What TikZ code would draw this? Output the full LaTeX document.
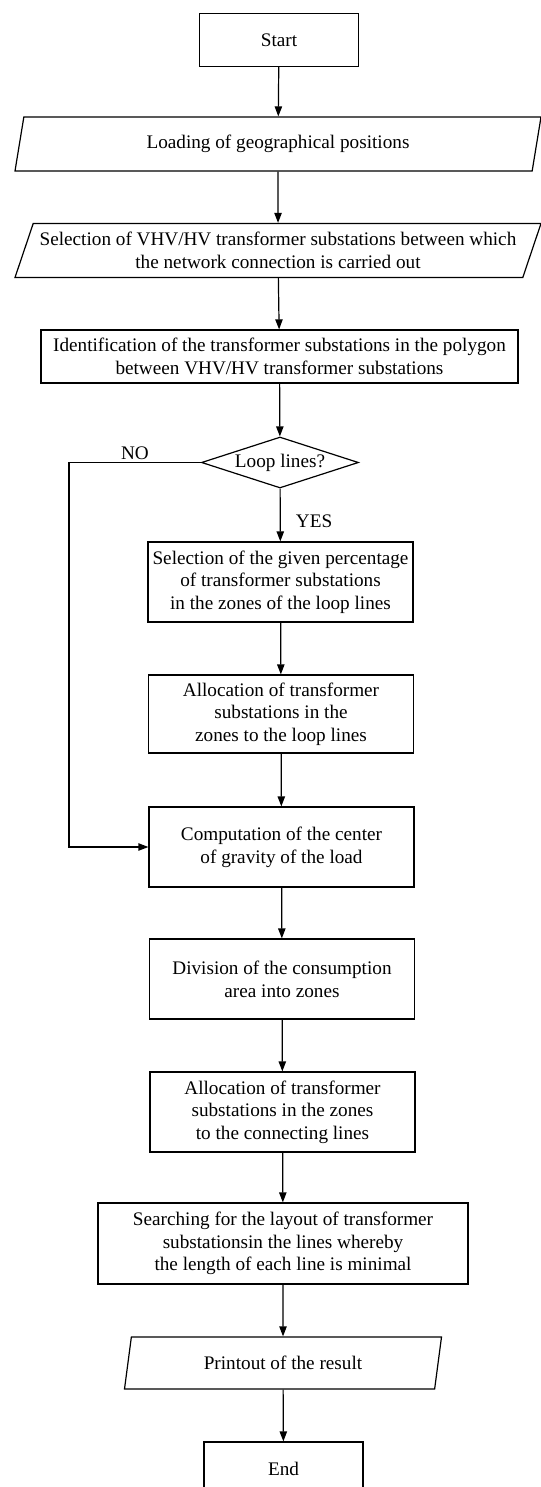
\documentclass[tikz,border=0pt]{standalone}
\usepackage{fontspec}
\setmainfont{Liberation Serif}
\usetikzlibrary{shapes.geometric,arrows.meta}

\begin{document}
\begin{tikzpicture}[x=0.75pt, y=-0.75pt,
    every node/.style={font=\fontsize{14.4pt}{17pt}\selectfont, align=center, line width=0.9pt},
    procbox/.style={draw, rectangle, inner sep=2pt},
    iobox/.style={draw, trapezium, trapezium left angle=63.4, trapezium right angle=116.6,
        trapezium stretches body, minimum height=40.5pt, inner sep=0pt},
    decision/.style={draw, diamond, aspect=3, minimum width=117.75pt, minimum height=38.25pt, inner sep=0pt},
    flow/.style={-{Triangle[length=7.5pt,width=5.5pt]}, line width=0.9pt}]

      \useasboundingbox (0,0) rectangle (541,1487);

      % Main column of the flowchart
      \node[procbox, minimum width=119.25pt, minimum height=39.75pt] (start) at (279,40) {Start};
      \node[iobox, minimum width=394.5pt] (load) at (278,144) {Loading of geographical positions};
      \node[iobox, minimum width=394.5pt, inner xsep=-8pt] (choose) at (278,250.5)
          {Selection of VHV/HV transformer substations between which\\the network connection is carried out};
      \node[procbox, minimum width=357.75pt, minimum height=39.75pt] (ident) at (279.5,356.5)
          {Identification of the transformer substations in the polygon\\between VHV/HV transformer substations};
      \node[decision] (loop) at (280,462.5) {Loop lines?};
      \node[procbox, minimum width=198.75pt, minimum height=60pt] (pick) at (280.5,582)
          {Selection of the given percentage\\of transformer substations\\in the zones of the loop lines};
      \node[procbox, minimum width=198.75pt, minimum height=58.5pt] (alloc) at (281,714)
          {Allocation of transformer\\substations in the\\zones to the loop lines};
      \node[procbox, minimum width=198.75pt, minimum height=60pt] (comp) at (281.5,847)
          {Computation of the center\\of gravity of the load};
      \node[procbox, minimum width=198.75pt, minimum height=60pt] (divide) at (282,979)
          {Division of the consumption\\area into zones};
      \node[procbox, minimum width=198.75pt, minimum height=60pt] (connect) at (282.5,1112)
          {Allocation of transformer\\substations in the zones\\to the connecting lines};
      \node[procbox, minimum width=277.5pt, minimum height=60.75pt] (search) at (283,1243.5)
          {Searching for the layout of transformer\\substationsin the lines whereby\\the length of each line is minimal};
      \node[iobox, minimum width=237.75pt, minimum height=39pt] (print) at (283,1363) {Printout of the result};
      \node[procbox, minimum width=119.25pt, minimum height=39.75pt] (stop) at (283.5,1468.5) {End};

      % Turning point of the NO branch
      \coordinate (noturn) at (69,462.5);

      % Connectors
      \foreach \a/\b in {start/load, load/choose, choose/ident, ident/loop, pick/alloc, alloc/comp,
                         comp/divide, divide/connect, connect/search, search/print, print/stop} {
          \draw[flow] (\a) -- (\b);
      }
      \draw[flow] (loop) -- node[pos=0.62, right, xshift=8pt] {YES} (pick);
      \draw[flow] (loop.west) -- node[above, inner sep=1.5pt] {NO} (noturn) |- (comp.west);

\end{tikzpicture}
\end{document}
